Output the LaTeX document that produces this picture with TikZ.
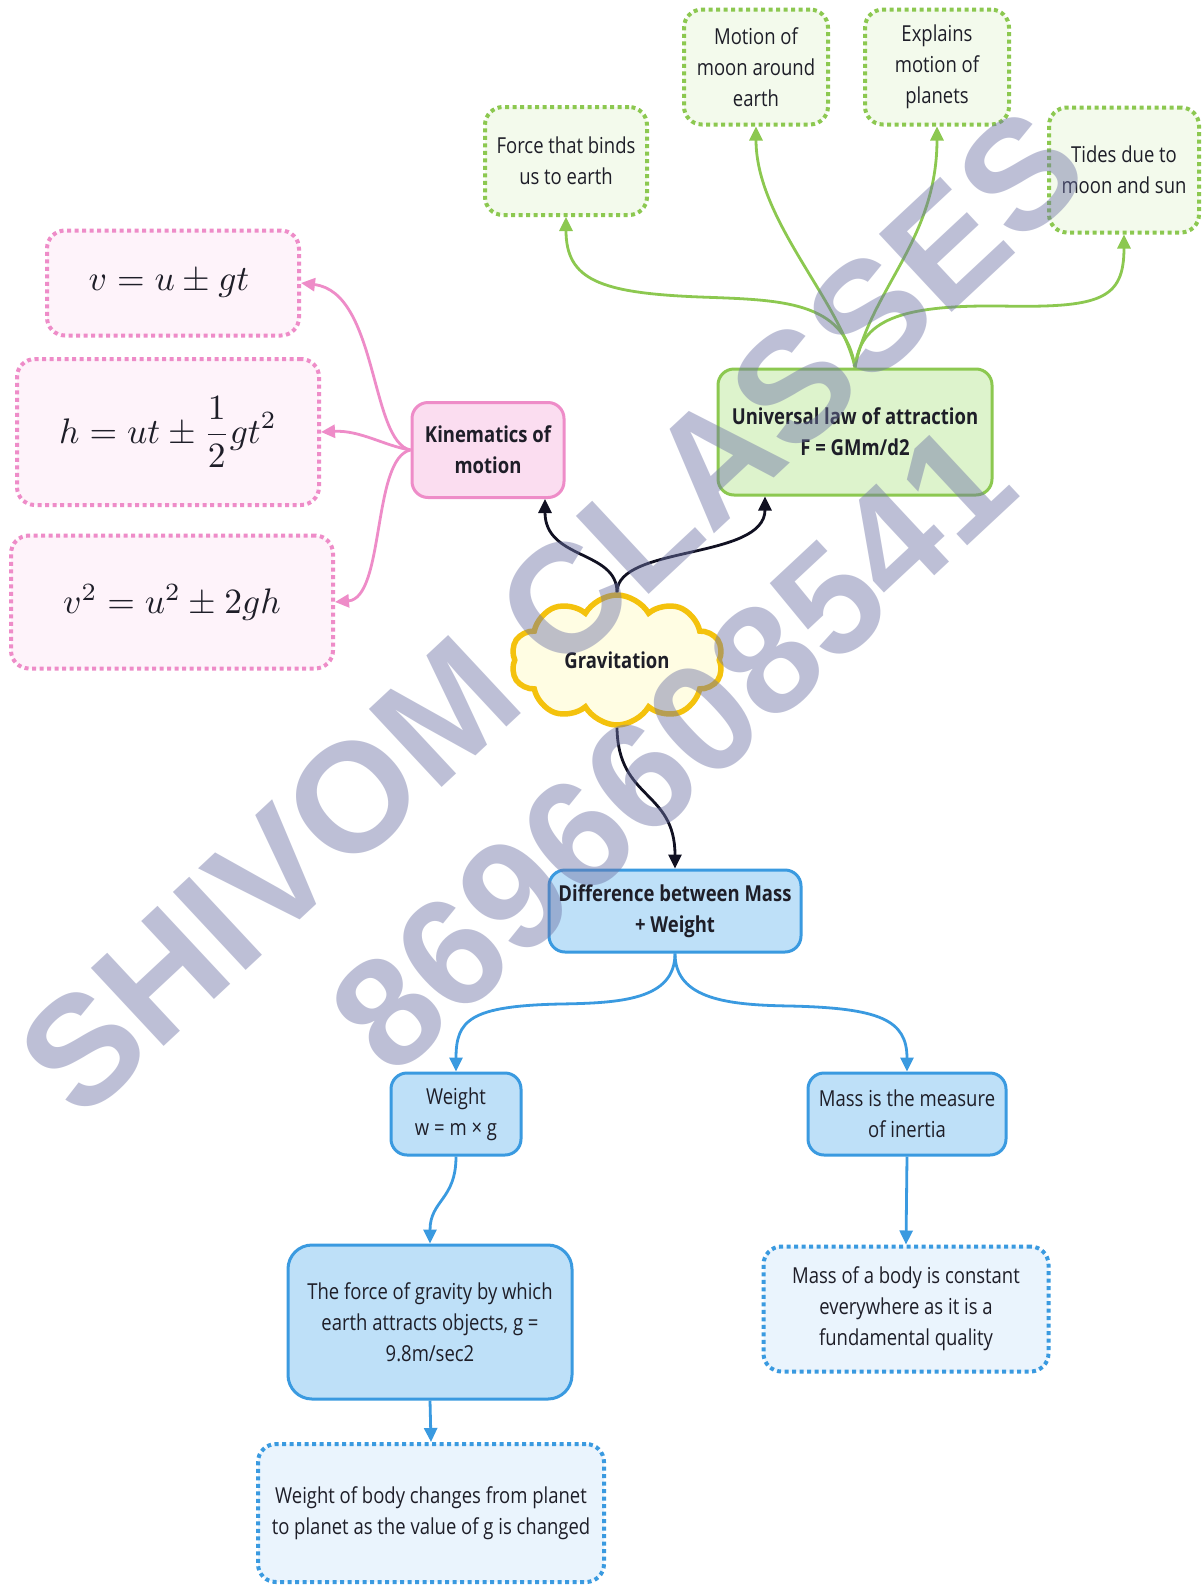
\documentclass[tikz,border=0pt]{standalone}
\usepackage{graphicx}
\usepackage[no-math]{fontspec}
\setmainfont{Open Sans}[FakeStretch=0.84]
\newfontfamily\wmfont{Liberation Sans}
\usetikzlibrary{arrows.meta,shapes.symbols}
\definecolor{txt}{HTML}{1E1E28}
\definecolor{pinkline}{HTML}{EE8CC8}
\definecolor{pinkfill}{HTML}{FBDDF0}
\definecolor{pinkfilltwo}{HTML}{FEF3FA}
\definecolor{greenline}{HTML}{8CC850}
\definecolor{greenfill}{HTML}{DDF3CC}
\definecolor{greenfilltwo}{HTML}{F3FAEC}
\definecolor{blueline}{HTML}{3A9AE0}
\definecolor{bluefill}{HTML}{BEE0F8}
\definecolor{bluefilltwo}{HTML}{EAF4FD}
\definecolor{yline}{HTML}{F4C20D}
\definecolor{yfill}{HTML}{FFFDE3}
\definecolor{blk}{HTML}{111122}
\definecolor{wmcol}{RGB}{110,115,165}
\newcommand{\bigmath}[1]{\scalebox{3.55}{$#1$}}
\tikzset{
  base/.style={align=center, text=txt, font=\fontsize{22}{31}\selectfont, inner sep=2pt},
  boldbase/.style={base, font=\bfseries\fontsize{22}{31}\selectfont},
  dotbox/.style={line width=4pt, dash pattern=on 4pt off 3.5pt, rounded corners=18pt},
  solidbox/.style={line width=3pt, rounded corners=16pt},
  pinkdot/.style={base, dotbox, draw=pinkline, fill=pinkfilltwo},
  pinksolid/.style={boldbase, solidbox, draw=pinkline, fill=pinkfill},
  greendot/.style={base, dotbox, draw=greenline, fill=greenfilltwo},
  greensolid/.style={boldbase, solidbox, draw=greenline, fill=greenfill},
  bluedot/.style={base, dotbox, draw=blueline, fill=bluefilltwo},
  bluesolid/.style={base, solidbox, draw=blueline, fill=bluefill},
  tipstyle/.style={-{Triangle[length=14pt,width=13pt]}},
  pinkarrow/.style={draw=pinkline, line width=2.8pt, tipstyle, color=pinkline},
  greenarrow/.style={draw=greenline, line width=2.8pt, tipstyle, color=greenline},
  bluearrow/.style={draw=blueline, line width=2.8pt, tipstyle, color=blueline},
  blackarrow/.style={draw=blk, line width=2.8pt, tipstyle, color=blk},
  wm/.style={text=wmcol, opacity=0.45, inner sep=0pt, font=\wmfont\bfseries\fontsize{155}{160}\selectfont}
}
\begin{document}
\begin{tikzpicture}[x=1pt,y=-1pt]
\useasboundingbox (0,0) rectangle (1202,1585);
\fill[white] (0,0) rectangle (1202,1585);

% pink group
\node[pinkdot, minimum width=252pt, minimum height=105pt] (eqa) at (173,283) {\normalsize\bigmath{v = u \pm gt}\hspace*{8pt}};
\node[pinkdot, minimum width=302pt, minimum height=146pt] (eqb) at (168,432) {\normalsize\bigmath{h = ut \pm \displaystyle\frac{1}{2}gt^2}};
\node[pinkdot, minimum width=322pt, minimum height=133pt] (eqc) at (172,602) {\normalsize\bigmath{v^2 = u^2 \pm 2gh}};
\node[pinksolid, minimum width=152pt, minimum height=95pt] (kin) at (488,450) {Kinematics of\\motion};

% green group
\node[greensolid, minimum width=274pt, minimum height=126pt] (uni) at (855,432) {Universal law of attraction\\F = GMm/d2};
\node[greendot, minimum width=162pt, minimum height=108pt] (force) at (566,161) {Force that binds\\us to earth};
\node[greendot, minimum width=144pt, minimum height=115pt] (moon) at (756,67) {Motion of\\moon around\\earth};
\node[greendot, minimum width=144pt, minimum height=115pt] (expl) at (937,67) {Explains\\motion of\\planets};
\node[greendot, minimum width=150pt, minimum height=125pt] (tides) at (1124,170) {Tides due to\\moon and sun};

% centre
\node[cloud, cloud puffs=10, cloud puff arc=120, aspect=1.8, draw=yline, fill=yfill, line width=5.5pt,
      minimum width=212pt, minimum height=130pt, inner sep=0pt, boldbase] (grav) at (617,660) {Gravitation};

% blue group
\node[bluesolid, boldbase, minimum width=252pt, minimum height=82pt] (diff) at (675,911) {Difference between Mass\\+ Weight};
\node[bluesolid, minimum width=130pt, minimum height=82pt] (weight) at (456,1114) {Weight\\w = m × g};
\node[bluesolid, minimum width=198pt, minimum height=82pt] (massm) at (907,1114) {Mass is the measure\\of inertia};
\node[bluesolid, minimum width=284pt, minimum height=154pt, rounded corners=24pt] (fog) at (430,1322) {The force of gravity by which\\earth attracts objects, g =\\9.8m/sec2};
\node[bluedot, minimum width=285pt, minimum height=125pt] (massb) at (906,1309) {Mass of a body is constant\\everywhere as it is a\\fundamental quality};
\node[bluedot, minimum width=346pt, minimum height=138pt] (wob) at (431,1513) {Weight of body changes from planet\\to planet as the value of g is changed};

% pink connectors
\draw[pinkarrow] (kin.west) .. controls (370,442) and (378,292) .. (eqa.east);
\draw[pinkarrow] (kin.west) .. controls (385,446) and (360,430) .. (eqb.east);
\draw[pinkarrow] (kin.west) .. controls (372,458) and (385,598) .. (eqc.east);

% black connectors
\draw[blackarrow] (grav.north) .. controls (617,550) and (545,560) .. ([xshift=57pt]kin.south);
\draw[blackarrow] (grav.north) .. controls (617,545) and (765,560) .. ([xshift=-90pt]uni.south);
\draw[blackarrow] (grav.south) .. controls (618,800) and (675,790) .. (diff.north);

% green connectors
\draw[greenarrow] (uni.north) .. controls (845,300) and (780,300) .. (700,297) .. controls (600,293) and (566,280) .. (force.south);
\draw[greenarrow] (uni.north) .. controls (840,300) and (756,220) .. (moon.south);
\draw[greenarrow] (uni.north) .. controls (870,290) and (937,240) .. (expl.south);
\draw[greenarrow] (uni.north) .. controls (860,320) and (900,305) .. (1000,306) .. controls (1100,308) and (1124,300) .. (tides.south);

% blue connectors
\draw[bluearrow] (diff.south) .. controls (675,1000) and (620,1003) .. (560,1004) .. controls (470,1006) and (456,1020) .. (weight.north);
\draw[bluearrow] (diff.south) .. controls (675,1000) and (730,1005) .. (790,1006) .. controls (880,1008) and (907,1020) .. (massm.north);
\draw[bluearrow] (weight.south) .. controls (456,1200) and (430,1200) .. (fog.north);
\draw[bluearrow] (massm.south) -- (massb.north);
\draw[bluearrow] (fog.south) -- (wob.north);

% watermark
\node[wm, rotate=43] (wma) at (552,612) {SHIVOM CLASSES};
\node[wm, rotate=43] (wmb) at (672,748) {8696608541};
\end{tikzpicture}
\end{document}
